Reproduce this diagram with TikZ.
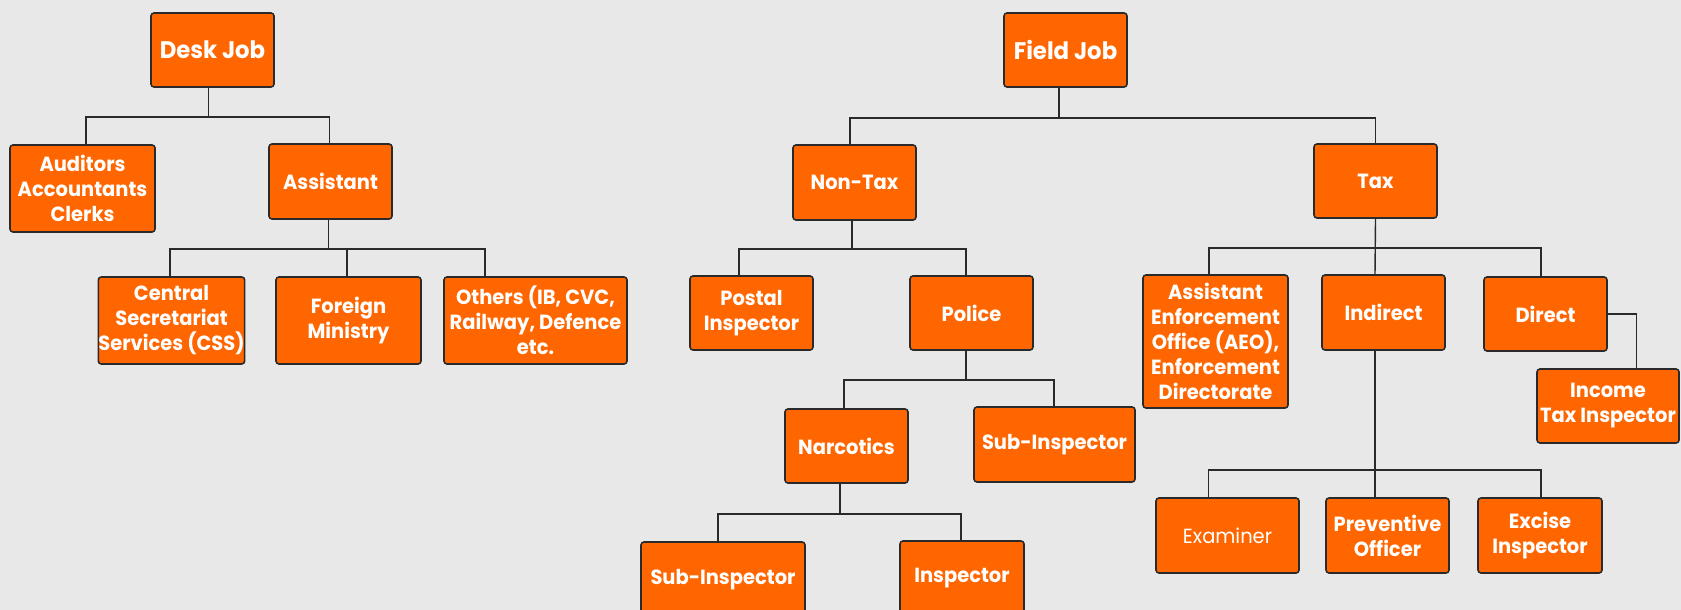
\documentclass[tikz,border=0pt]{standalone}
\usepackage{fontspec}
\setmainfont{Poppins}[FakeStretch=0.95]
\definecolor{bgcol}{HTML}{E8E8E8}
\definecolor{boxcol}{HTML}{FF6600}
\definecolor{edgecol}{HTML}{2A2A2A}
\begin{document}
\begin{tikzpicture}[x=1pt,y=-1pt,
  box/.style={draw=edgecol, line width=1.6pt, fill=boxcol, rounded corners=3pt,
    text=white, align=center, inner sep=0pt,
    font=\bfseries\fontsize{20.5}{25}\selectfont},
  bigbox/.style={box, font=\bfseries\fontsize{24}{28}\selectfont},
  conn/.style={draw=edgecol, line width=1.4pt}]
\fill[bgcol] (0,0) rectangle (1681,610);
\useasboundingbox (0,0) rectangle (1681,610);

% Desk job tree
\node[bigbox, minimum width=123pt, minimum height=74pt] (desk) at (212.5,50) {Desk Job};
\node[box, minimum width=145pt, minimum height=87pt] (aud) at (82.5,188.5) {Auditors\\Accountants\\Clerks};
\node[box, minimum width=123pt, minimum height=75pt] (asst) at (330.5,181.5) {Assistant};
\node[box, minimum width=145pt, minimum height=87pt] (css) at (171.5,320.5) {Central\\Secretariat\\Services (CSS)};
\node[box, minimum width=145pt, minimum height=87pt] (foreign) at (348.5,320.5) {Foreign\\Ministry};
\node[box, minimum width=183pt, minimum height=87pt] (others) at (535.5,320.5) {Others (IB, CVC,\\Railway, Defence\\etc.};

\draw[conn] ([xshift=-4pt]desk.south) -- ++(0,29) coordinate (db);
\draw[conn] ([xshift=3.5pt]aud.north) |- (db) -| ([xshift=-1pt]asst.north);
\draw[conn] ([xshift=-2pt]asst.south) -- ++(0,29) coordinate (ab);
\draw[conn] ([xshift=-1.5pt]css.north) |- (ab) -| ([xshift=-50.5pt]others.north);
\draw[conn] ([xshift=-1.5pt]foreign.north) -- ([xshift=-1.5pt]foreign.north |- ab);

% Field job tree
\node[bigbox, minimum width=123pt, minimum height=74pt] (field) at (1065.5,50) {Field Job};
\node[box, minimum width=123pt, minimum height=75pt] (nontax) at (854.5,182.5) {Non-Tax};
\node[box, minimum width=123pt, minimum height=74pt] (tax) at (1375.5,181) {Tax};

\draw[conn] ([xshift=-6.5pt]field.south) -- ++(0,30) coordinate (fb);
\draw[conn] ([xshift=-4.5pt]nontax.north) |- (fb) -| (tax.north);

\node[box, minimum width=123pt, minimum height=74pt] (postal) at (751.5,313) {Postal\\Inspector};
\node[box, minimum width=123pt, minimum height=74pt] (police) at (971.5,313) {Police};
\draw[conn] ([xshift=-2.5pt]nontax.south) -- ++(0,28) coordinate (nb);
\draw[conn] ([xshift=-12.5pt]postal.north) |- (nb) -| ([xshift=-5.5pt]police.north);

\node[box, minimum width=123pt, minimum height=74pt] (narc) at (846.5,446) {Narcotics};
\node[box, minimum width=161pt, minimum height=75pt] (subpol) at (1054.5,444.5) {Sub-Inspector};
\draw[conn] ([xshift=-5.5pt]police.south) -- ++(0,29) coordinate (pb);
\draw[conn] ([xshift=-2.5pt]narc.north) |- (pb) -| ([xshift=-0.5pt]subpol.north);

\node[box, minimum width=164pt, minimum height=75pt] (subnarc) at (723,579.5) {Sub-Inspector};
\node[box, minimum width=124pt, minimum height=75pt] (insp) at (962,578.5) {Inspector};
\draw[conn] ([xshift=-6.5pt]narc.south) -- ++(0,30) coordinate (nrb);
\draw[conn] ([xshift=-5pt]subnarc.north) |- (nrb) -| ([xshift=-1pt]insp.north);

\node[box, minimum width=145pt, minimum height=133pt] (aeo) at (1215.5,341.5) {Assistant\\Enforcement\\Office (AEO),\\Enforcement\\Directorate};
\node[box, minimum width=123pt, minimum height=75pt] (indirect) at (1383.5,312.5) {Indirect};
\node[box, minimum width=123pt, minimum height=74pt] (direct) at (1545.5,314) {Direct};
\draw[conn] (tax.south) -- ([xshift=-8.5pt]indirect.north);
\draw[conn] ([xshift=-6.5pt]aeo.north) |- (1375,248) -| ([xshift=-4.5pt]direct.north);

\node[box, minimum width=142pt, minimum height=74pt] (income) at (1608,406) {Income\\Tax Inspector};
\draw[conn] (direct.east) -| ([xshift=28.5pt]income.north);

\node[box, minimum width=143pt, minimum height=75pt, font=\fontsize{20.5}{25}\selectfont] (exam) at (1227.5,535.5) {Examiner};
\node[box, minimum width=123pt, minimum height=75pt] (prev) at (1387.5,535.5) {Preventive\\Officer};
\node[box, minimum width=124pt, minimum height=75pt] (excise) at (1540,535.5) {Excise\\Inspector};
\draw[conn] ([xshift=-8.5pt]indirect.south) -- ([xshift=-12.5pt]prev.north);
\draw[conn] ([xshift=-19pt]exam.north) |- (1375,470) -| ([xshift=1pt]excise.north);
\end{tikzpicture}
\end{document}
